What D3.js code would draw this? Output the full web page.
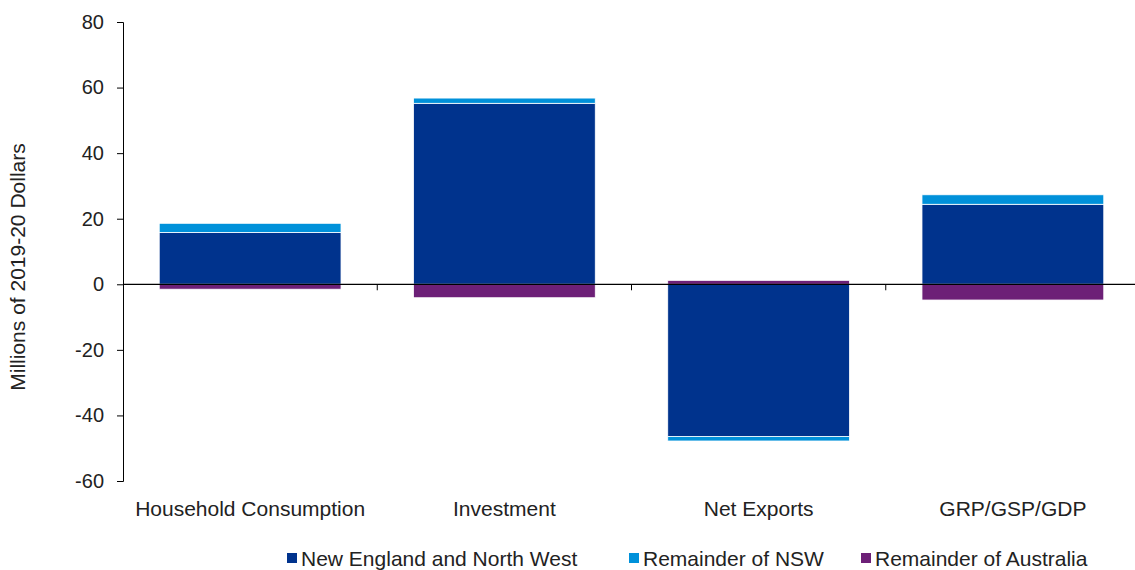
<!DOCTYPE html>
<html>
<head>
<meta charset="utf-8">
<script src="https://cdn.jsdelivr.net/npm/d3@7"></script>
<style>
  body { margin: 0; background: #fff; }
  text { font-family: "Liberation Sans", Arial, sans-serif; fill: #222; }
</style>
</head>
<body>
<div id="chart"></div>
<script>
const categories = ['Household Consumption', 'Investment', 'Net Exports', 'GRP/GSP/GDP'];
const seriesNames = ['New England and North West', 'Remainder of NSW', 'Remainder of Australia'];
const newEngland = [15.8, 55.2, -46.4, 24.4];
const remainderNSW = [2.8, 1.6, -1.4, 2.9];
const remainderAus = [-1.5, -4.1, 1.2, -4.8];
const colors = ['#00338D', '#0091DA', '#6D2077'];
const yTicks = [80, 60, 40, 20, 0, -20, -40, -60];

const width = 1135, height = 570;
const margin = { top: 22, right: -5, bottom: 89, left: 123 };

const rows = categories.map((c, i) => ({
    cat: c,
    [seriesNames[0]]: newEngland[i],
    [seriesNames[1]]: remainderNSW[i],
    [seriesNames[2]]: remainderAus[i]
}));

const stacked = d3.stack()
    .keys(seriesNames)
    .offset(d3.stackOffsetDiverging)(rows);

const svg = d3.select('#chart')
    .append('svg')
    .attr('width', width)
    .attr('height', height);

const x = d3.scaleBand()
    .domain(categories)
    .range([margin.left, width - margin.right])
    .paddingInner(0.285)
    .paddingOuter(0.1425);

const y = d3.scaleLinear()
    .domain([-60, 80])
    .range([height - margin.bottom, margin.top]);

// bars
svg.append('g')
    .selectAll('g')
    .data(stacked)
    .join('g')
        .attr('fill', (d, i) => colors[i])
    .selectAll('rect')
    .data(d => d)
    .join('rect')
        .attr('x', d => x(d.data.cat))
        .attr('width', x.bandwidth())
        .attr('y', d => y(Math.max(d[0], d[1])))
        .attr('height', d => Math.abs(y(d[0]) - y(d[1])))
        .attr('stroke', '#fff')
        .attr('stroke-width', 0.8);

// y axis
const yAxis = svg.append('g')
    .attr('transform', `translate(${margin.left},0)`)
    .call(d3.axisLeft(y)
        .tickValues(yTicks)
        .tickSize(6)
        .tickPadding(13)
        .tickFormat(d => String(d)));
yAxis.select('.domain').attr('stroke', '#000');
yAxis.selectAll('.tick line').attr('stroke', '#000');
yAxis.selectAll('.tick text')
    .attr('font-size', 20)
    .attr('fill', '#222');

// x axis along zero line
const xAxisG = svg.append('g')
    .attr('transform', `translate(0,${y(0)})`);
xAxisG.append('line')
    .attr('x1', margin.left)
    .attr('x2', width)
    .attr('stroke', '#000')
    .attr('stroke-width', 1.2);
const step = x.step();
xAxisG.selectAll('.sep')
    .data(categories.slice(1))
    .join('line')
        .attr('class', 'sep')
        .attr('x1', d => x(d) - step * 0.285 / 2)
        .attr('x2', d => x(d) - step * 0.285 / 2)
        .attr('y1', 0)
        .attr('y2', 6)
        .attr('stroke', '#000');

// category labels
svg.append('g')
    .selectAll('text')
    .data(categories)
    .join('text')
        .attr('x', d => x(d) + x.bandwidth() / 2)
        .attr('y', 516)
        .attr('text-anchor', 'middle')
        .attr('font-size', 21)
        .text(d => d);

// y axis title
svg.append('text')
    .attr('transform', 'translate(25,267) rotate(-90)')
    .attr('text-anchor', 'middle')
    .attr('font-size', 21)
    .text('Millions of 2019-20 Dollars');

// legend
const legendX = [287, 629, 861];
const legend = svg.append('g')
    .selectAll('g')
    .data(seriesNames)
    .join('g')
        .attr('transform', (d, i) => `translate(${legendX[i]},558)`);
legend.append('rect')
    .attr('x', 0)
    .attr('y', -5)
    .attr('width', 10)
    .attr('height', 10)
    .attr('fill', (d, i) => colors[i]);
legend.append('text')
    .attr('x', 14)
    .attr('y', 8)
    .attr('font-size', 21)
    .text(d => d);
</script>
</body>
</html>
